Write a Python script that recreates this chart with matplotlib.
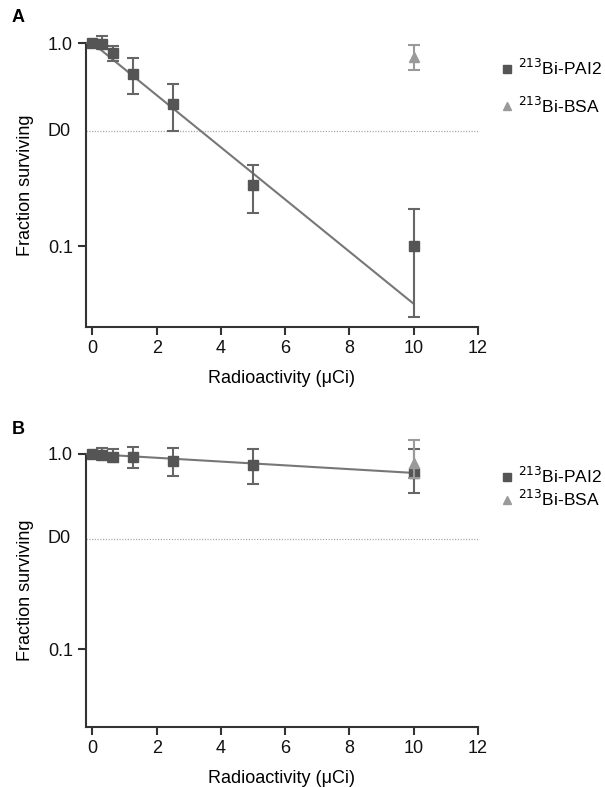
import numpy as np
import matplotlib
matplotlib.use("Agg")
import matplotlib.pyplot as plt

# ---- data ----
dose = [0, 0.3125, 0.625, 1.25, 2.5, 5, 10]
D0 = np.exp(-1)

# Panel A
a_pai2 = [1.0, 0.99, 0.89, 0.70, 0.50, 0.20, 0.10]
a_pai2_hi = [1.0, 1.085, 0.97, 0.84, 0.63, 0.25, 0.153]
a_pai2_lo = [1.0, 0.93, 0.82, 0.56, 0.37, 0.146, 0.045]
a_bsa_x = [10]
a_bsa = [0.855]
a_bsa_hi = [0.977]
a_bsa_lo = [0.74]
a_fit_x = [0, 10]
a_fit_y = [1.0, 0.052]

# Panel B
b_pai2 = [1.0, 0.99, 0.97, 0.96, 0.925, 0.88, 0.80]
b_pai2_hi = [1.0, 1.07, 1.06, 1.08, 1.07, 1.06, 1.06]
b_pai2_lo = [1.0, 0.93, 0.91, 0.845, 0.775, 0.70, 0.635]
b_bsa_x = [10]
b_bsa = [0.90]
b_bsa_hi = [1.18]
b_bsa_lo = [0.75]
b_fit_x = [0, 10]
b_fit_y = [1.0, 0.80]

xticks = [0, 2, 4, 6, 8, 10, 12]
labels = ["$^{213}$Bi-PAI2", "$^{213}$Bi-BSA"]

plt.rcParams['font.family'] = ['Liberation Sans', 'DejaVu Sans']

W, H = 605, 787
fig = plt.figure(figsize=(W/100, H/100), dpi=100)

dark = '#555555'
light = '#9a9a9a'
linec = '#777777'
axc = '#333333'

def panel(rect, pai2, hi, lo, bx, by, bhi, blo, fx, fy, letter, leg_y, leg_sp):
    ax = fig.add_axes(rect)
    ax.set_yscale('log')
    ax.plot(fx, fy, color=linec, lw=1.5, zorder=2)
    ax.axhline(D0, color='#aaaaaa', lw=0.9, ls=(0, (1, 1.2)), zorder=1)
    p = np.array(pai2); yerr = [p - np.array(lo), np.array(hi) - p]
    h1 = ax.errorbar(dose, pai2, yerr=yerr, fmt='s', color=dark, ms=7,
                     ecolor='#666666', elinewidth=1.5, capsize=4, capthick=1.5, zorder=3)
    b = np.array(by); berr = [b - np.array(blo), np.array(bhi) - b]
    h2 = ax.errorbar(bx, by, yerr=berr, fmt='^', color=light, ms=7,
                     ecolor=light, elinewidth=1.5, capsize=4, capthick=1.5, zorder=4)
    ax.set_xlim(-0.2, 12)
    ax.set_ylim(0.04, 1.0)
    ax.set_yticks([1.0, 0.1])
    ax.set_yticklabels(['1.0', '0.1'])
    ax.yaxis.set_minor_locator(matplotlib.ticker.NullLocator())
    ax.set_xticks(xticks)
    ax.set_xticklabels([str(t) for t in xticks])
    for s in ['top', 'right']:
        ax.spines[s].set_visible(False)
    for s in ['left', 'bottom']:
        ax.spines[s].set_color(axc)
        ax.spines[s].set_linewidth(1.5)
    ax.tick_params(colors=axc, width=1.5, length=6, labelsize=13, labelcolor='#111111')
    ax.text(-0.04, D0, 'D0', transform=ax.get_yaxis_transform(), ha='right',
            va='center', fontsize=13, color='#111111')
    ax.set_ylabel('Fraction surviving', fontsize=13, labelpad=10)
    ax.set_xlabel('Radioactivity (μCi)', fontsize=13, labelpad=9)
    for c in [h1, h2]:
        for cl in c[1]:
            cl.set_clip_on(False)
        for bl in c[2]:
            bl.set_clip_on(False)
        c[0].set_clip_on(False)
    ax.text(-0.19, 1.09, letter, transform=ax.transAxes, fontsize=13,
            fontweight='bold', ha='left', va='center')
    ax.legend([h1[0], h2[0]], labels, loc='upper left',
              bbox_to_anchor=(1.022, leg_y), frameon=False, fontsize=12.5,
              handlelength=0.6, handletextpad=0.3, labelspacing=leg_sp,
              markerscale=0.85)
    return ax

axL = 86 / W
axW = (478 - 86) / W
panel([axL, 1 - 327 / H, axW, (327 - 43) / H], a_pai2, a_pai2_hi, a_pai2_lo,
      a_bsa_x, a_bsa, a_bsa_hi, a_bsa_lo, a_fit_x, a_fit_y, 'A', 1.001, 0.98)
panel([axL, 1 - 727 / H, axW, (727 - 454) / H], b_pai2, b_pai2_hi, b_pai2_lo,
      b_bsa_x, b_bsa, b_bsa_hi, b_bsa_lo, b_fit_x, b_fit_y, 'B', 1.012, 0.15)

fig.savefig('out.png', dpi=100)
